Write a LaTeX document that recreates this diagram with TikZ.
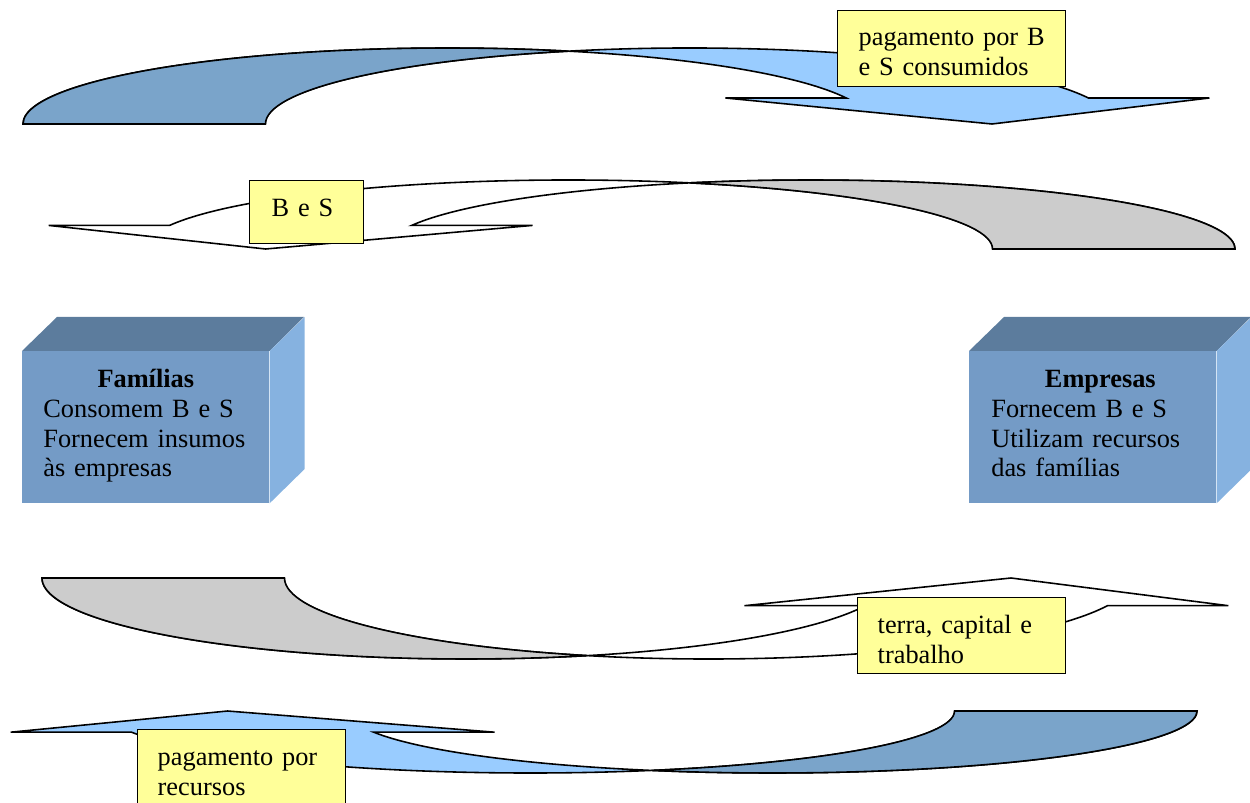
\documentclass[tikz,border=0pt]{standalone}
\usepackage{fontspec}
\setmainfont{Liberation Serif}
\usetikzlibrary{positioning}

\definecolor{notecol}{RGB}{255,255,153}
\definecolor{bluedark}{RGB}{122,164,202}
\definecolor{bluelight}{RGB}{153,204,255}
\definecolor{greycol}{RGB}{204,204,204}
\definecolor{cubefrontcol}{RGB}{116,155,198}
\definecolor{cubetopcol}{RGB}{92,124,157}
\definecolor{cubesidecol}{RGB}{134,178,224}

\tikzset{
  txt/.style={font=\fontsize{15}{17}\selectfont, anchor=north west, align=left, inner ysep=0pt},
  lbl/.style={txt, draw, fill=notecol, line width=0.8pt},
  cubefront/.style={txt, fill=cubefrontcol},
  band/.style={draw, line width=0.9pt, line join=miter},
  bandA/.style={x radius=8.49cm, y radius=1.52cm},
  bandB/.style={x radius=8.49cm, y radius=1.38cm},
  bandC/.style={x radius=8.49cm, y radius=1.62cm},
  bandD/.style={x radius=8.49cm, y radius=1.24cm},
}

\begin{document}
\begin{tikzpicture}[x=0.02cm, y=-0.02cm]
    \useasboundingbox (0,0) rectangle (1250,803);
    \clip (0,0) rectangle (1250,803);

    % pagamento por B e S consumidos
    \filldraw[band, fill=bluelight] (23,124) arc[start angle=180, end angle=20, bandA]
        -- (725.4,98) -- (992,124) -- (1209.4,98) -- (1088.4,98)
        arc[start angle=20, end angle=180, bandA] -- cycle;
    \filldraw[band, fill=bluedark] (23,124) arc[start angle=180, end angle=73.4, bandA]
        arc[start angle=106.6, end angle=180, bandA] -- cycle;

    % B e S
    \filldraw[band, fill=white] (1235,249) arc[start angle=0, end angle=160, bandB]
        -- (532.6,225.4) -- (265.6,249) -- (48.6,225.4) -- (169.6,225.4)
        arc[start angle=160, end angle=0, bandB] -- cycle;
    \filldraw[band, fill=greycol] (1235,249) arc[start angle=0, end angle=106.6, bandB]
        arc[start angle=73.4, end angle=0, bandB] -- cycle;

    % terra, capital e trabalho
    \filldraw[band, fill=white] (42,578) arc[start angle=180, end angle=340, bandC]
        -- (744.4,605.7) -- (1011,578) -- (1228.4,605.7) -- (1107.4,605.7)
        arc[start angle=340, end angle=180, bandC] -- cycle;
    \filldraw[band, fill=greycol] (42,578) arc[start angle=180, end angle=286.6, bandC]
        arc[start angle=253.4, end angle=180, bandC] -- cycle;

    % pagamento por recursos
    \filldraw[band, fill=bluelight] (1197,711) arc[start angle=360, end angle=200, bandD]
        -- (494.6,732.2) -- (227.6,711) -- (10.6,732.2) -- (131.6,732.2)
        arc[start angle=200, end angle=360, bandD] -- cycle;
    \filldraw[band, fill=bluedark] (1197,711) arc[start angle=360, end angle=253.4, bandD]
        arc[start angle=286.6, end angle=360, bandD] -- cycle;

    % labels
    \node[lbl, text width=3.72cm, inner xsep=0.42cm] (pagbs) at (837,10)
        {\rule{0pt}{0.7cm}pagamento por B\\e S consumidos\rule[-0.22cm]{0pt}{0.22cm}};
    \node[lbl, text width=1.4cm, inner xsep=0.44cm] (bens) at (249,180)
        {\rule{0pt}{0.72cm}B e S\rule[-0.54cm]{0pt}{0.54cm}};
    \node[lbl, text width=3.36cm, inner xsep=0.4cm] (insumos) at (857,597)
        {\rule{0pt}{0.72cm}terra, capital e\\trabalho\rule[-0.2cm]{0pt}{0.2cm}};
    \node[lbl, text width=3.36cm, inner xsep=0.4cm] (pagrec) at (137,729)
        {\rule{0pt}{0.72cm}pagamento por\\recursos\rule[-0.22cm]{0pt}{0.22cm}};

    % Familias
    \node[cubefront, text width=4.1cm, inner xsep=0.42cm] (fam) at (22,351)
        {\rule{0pt}{0.72cm}\makebox[4.1cm]{\bfseries Famílias}\\Consomem B e S\\Fornecem insumos\\às empresas\rule[-0.52cm]{0pt}{0.52cm}};
    \fill[cubetopcol] (fam.north west) -- ++(35,-34) -- ++(247,0) -- (fam.north east) -- cycle;
    \fill[cubesidecol] (fam.north east) -- ++(35,-34) -- ++(0,152) -- (fam.south east) -- cycle;

    % Empresas
    \node[cubefront, text width=4.06cm, inner xsep=0.44cm] (emp) at (969,351)
        {\rule{0pt}{0.72cm}\makebox[4.06cm]{\hspace{0.3cm}\bfseries Empresas}\\Fornecem B e S\\Utilizam recursos\\das famílias\rule[-0.52cm]{0pt}{0.52cm}};
    \fill[cubetopcol] (emp.north west) -- ++(35,-34) -- ++(247,0) -- (emp.north east) -- cycle;
    \fill[cubesidecol] (emp.north east) -- ++(35,-34) -- ++(0,152) -- (emp.south east) -- cycle;

\end{tikzpicture}
\end{document}
